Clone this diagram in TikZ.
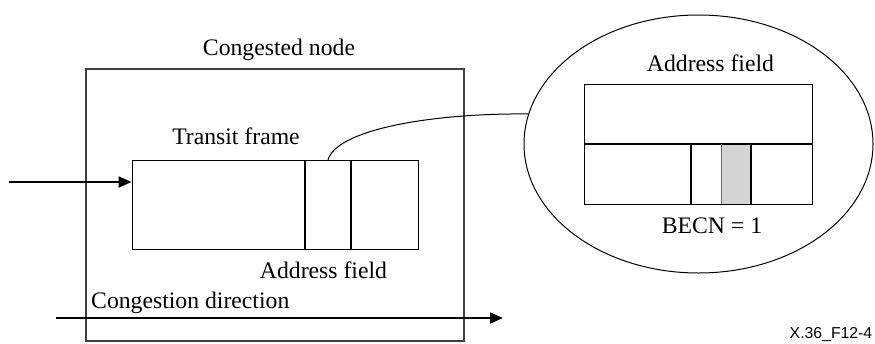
\documentclass[tikz,border=0pt]{standalone}
\usepackage{fontspec}
\setmainfont{Liberation Serif}
\newfontfamily\labelsans{Liberation Sans}
\usetikzlibrary{arrows.meta,shapes.geometric}
\tikzset{
  lbl/.style={font=\fontsize{23.7}{28}\selectfont, inner sep=0pt, anchor=base},
  thinline/.style={line width=1pt, draw=black},
  thickline/.style={line width=2pt, draw=black},
  flow/.style={line width=2pt, -{Triangle[length=13pt,width=11pt]}},
}
\begin{document}
\begin{tikzpicture}[x=1pt,y=-1pt]
\useasboundingbox (0,0) rectangle (875,343);
% outer congested node box
\node[draw=black!75, line width=1.3pt, minimum width=378pt, minimum height=272pt, inner sep=0pt] (outer) at (275,205) {};
\node[lbl] (cnlabel) at (279,55) {Congested node};
% transit frame
\node[thinline, draw, minimum width=286pt, minimum height=89pt, inner sep=0pt] (frame) at (275,204.5) {};
\coordinate (d1t) at (305,160); \coordinate (d1b) at (305,249);
\coordinate (d2t) at (351,160); \coordinate (d2b) at (351,249);
\draw[thickline] (d1t) -- (d1b);
\draw[thickline] (d2t) -- (d2b);
\node[lbl] (tflabel) at (236,144) {Transit frame};
\node[lbl] (aflabel) at (323.5,278) {Address field};
\node[lbl, anchor=base west] (cdlabel) at (91,308) {Congestion direction};
% arrows
\coordinate (inStart) at (9,182);
\draw[flow] (inStart) -- (frame.west |- inStart);
\coordinate (cdStart) at (56,318);
\coordinate (cdEnd) at (503,318);
\draw[flow] (cdStart) -- (cdEnd);
% magnifier ellipse
\node[ellipse, draw=black, line width=1pt, minimum width=349pt, minimum height=258pt, inner sep=0pt] (lens) at (698.5,144) {};
\coordinate (fieldtop) at (328,160);
\draw[line width=1pt] (fieldtop) .. controls (336,130) and (430,113) .. (lens.170);
% inner address field
\fill[black!17] (721,144) rectangle (751,204);
\node[thinline, draw, minimum width=228pt, minimum height=120pt, inner sep=0pt] (addr) at (698,144) {};
\draw[thickline] (addr.west) -- (addr.east);
\coordinate (v1t) at (691,144); \coordinate (v1b) at (691,204);
\draw[thickline] (v1t) -- (v1b);
\draw[line width=1pt, draw=black!60] (721,144) -- (721,204);
\draw[line width=1.5pt] (751,144) -- (751,204);
\node[lbl] (aflabel2) at (710.5,71) {Address field};
\node[lbl] (becn) at (712,233) {BECN = 1};
\node[font=\labelsans\fontsize{15.8}{18}\selectfont, inner sep=0pt, anchor=base] (figid) at (831,338) {X.36\_F12-4};
\end{tikzpicture}
\end{document}
